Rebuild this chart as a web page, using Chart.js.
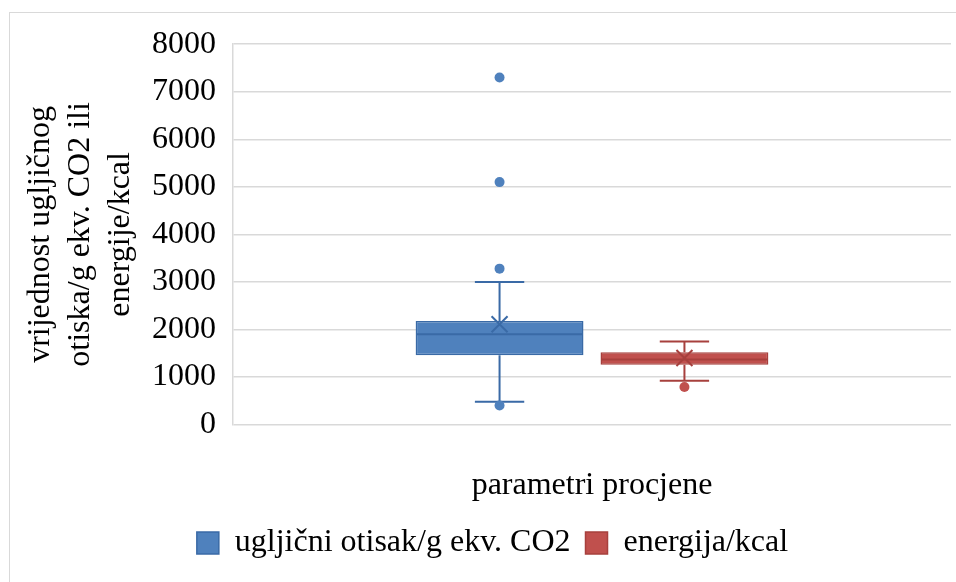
<!DOCTYPE html>
<html>
<head>
<meta charset="utf-8">
<script src="https://cdn.jsdelivr.net/npm/chart.js@4"></script>
<style>
html, body { margin: 0; padding: 0; background: #fff; overflow: hidden; }
#frame { position: absolute; left: 9px; top: 12px; width: 1000px; height: 600px;
         border-left: 1px solid #d9d9d9; border-top: 1px solid #d9d9d9; }
#wrap { position: absolute; left: 10px; top: 8px; width: 966px; height: 574px; }
</style>
</head>
<body>
<div id="frame"></div>
<div id="wrap"><canvas id="boxChart"></canvas></div>
<script>
// Box plot data
const seriesNames = ['ugljični otisak/g ekv. CO2', 'energija/kcal'];
const whiskerLow = [480, 920];
const q1 = [1460, 1260];
const median = [1900, 1370];
const q3 = [2180, 1520];
const whiskerHigh = [3000, 1750];
const means = [2110, 1400];
const outliers = [[400, 3280, 5100, 7300], [790]];
const yTicks = [0, 1000, 2000, 3000, 4000, 5000, 6000, 7000, 8000];

const fills = ['#4F81BD', '#C0504D'];
const strokes = ['#3A6AA6', '#A7403D'];
const font = 'Liberation Serif, Times New Roman, serif';

// Whiskers, median, mean and outliers drawn on top of the floating bars
const boxExtras = {
    id: 'boxExtras',
    afterDatasetsDraw(chart) {
        const ctx = chart.ctx;
        const y = chart.scales.y;
        seriesNames.forEach((name, i) => {
            const bar = chart.getDatasetMeta(i).data[0];
            const cx = bar.x;
            const half = bar.width / 2;
            const cap = bar.width * 0.147;
            ctx.save();
            ctx.strokeStyle = strokes[i];
            ctx.lineWidth = 2;
            ctx.beginPath();
            ctx.moveTo(cx, y.getPixelForValue(q3[i]));
            ctx.lineTo(cx, y.getPixelForValue(whiskerHigh[i]));
            ctx.moveTo(cx, y.getPixelForValue(q1[i]));
            ctx.lineTo(cx, y.getPixelForValue(whiskerLow[i]));
            [whiskerHigh[i], whiskerLow[i]].forEach(v => {
                const py = y.getPixelForValue(v);
                ctx.moveTo(cx - cap, py);
                ctx.lineTo(cx + cap, py);
            });
            const my = y.getPixelForValue(median[i]);
            ctx.moveTo(cx - half + 1, my);
            ctx.lineTo(cx + half - 1, my);
            ctx.stroke();

            // mean marker (x)
            const ay = y.getPixelForValue(means[i]);
            const s = 8;
            ctx.beginPath();
            ctx.moveTo(cx - s, ay - s);
            ctx.lineTo(cx + s, ay + s);
            ctx.moveTo(cx + s, ay - s);
            ctx.lineTo(cx - s, ay + s);
            ctx.stroke();

            // outliers
            ctx.fillStyle = fills[i];
            outliers[i].forEach(v => {
                ctx.beginPath();
                ctx.arc(cx, y.getPixelForValue(v), 5, 0, Math.PI * 2);
                ctx.fill();
            });
            ctx.restore();
        });
    }
};

const datasets = seriesNames.map((name, i) => ({
    label: name,
    data: [[q1[i], q3[i]]],
    backgroundColor: fills[i],
    borderColor: strokes[i],
    borderWidth: 1.5,
    borderSkipped: false,
    categoryPercentage: 0.515,
    barPercentage: 0.908
}));

const ctx = document.getElementById('boxChart').getContext('2d');
new Chart(ctx, {
    type: 'bar',
    data: { labels: [''], datasets: datasets },
    plugins: [boxExtras],
    options: {
        responsive: true,
        maintainAspectRatio: false,
        animation: false,
        layout: { padding: { left: 24, top: 5, right: 25, bottom: 13 } },
        plugins: {
            tooltip: { enabled: false },
            legend: {
                position: 'bottom',
                labels: {
                    boxWidth: 22,
                    boxHeight: 22,
                    padding: 15,
                    color: '#000',
                    font: { family: font, size: 32 }
                }
            }
        },
        scales: {
            x: {
                ticks: { display: false },
                grid: { display: false },
                border: { display: false },
                title: {
                    display: true,
                    text: 'parametri procjene',
                    color: '#000',
                    font: { family: font, size: 32 },
                    padding: { top: 34, bottom: 7 }
                }
            },
            y: {
                min: 0,
                max: 8000,
                afterBuildTicks: scale => { scale.ticks = yTicks.map(v => ({ value: v })); },
                ticks: {
                    color: '#000',
                    padding: 17,
                    font: { family: font, size: 32 },
                    callback: value => String(value)
                },
                grid: { color: '#d9d9d9', lineWidth: 1.5, drawTicks: false },
                border: { color: '#d9d9d9', width: 1.5 },
                title: {
                    display: true,
                    text: ['vrijednost ugljičnog', 'otiska/g ekv. CO2 ili', 'energije/kcal'],
                    color: '#000',
                    font: { family: font, size: 32, lineHeight: 1.25 },
                    padding: { top: -13, bottom: -6 }
                }
            }
        }
    }
});
</script>
</body>
</html>
